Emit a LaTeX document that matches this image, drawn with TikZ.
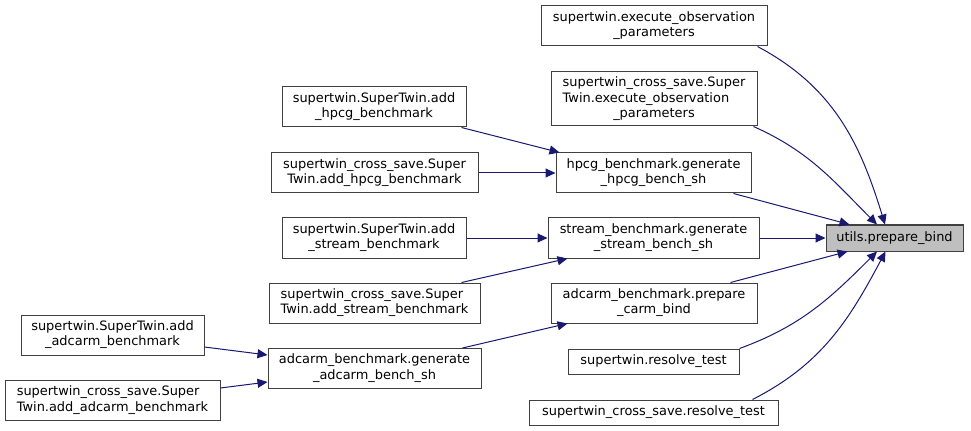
\documentclass[tikz,border=0pt]{standalone}
\usepackage{fontspec}
\setmainfont{DejaVu Sans}
\usepackage{tikz}
\usetikzlibrary{arrows.meta,calc}
\definecolor{callink}{HTML}{191970}
\definecolor{boxline}{HTML}{404040}
\definecolor{current}{HTML}{BFBFBF}
\newcommand{\fn}[1]{\detokenize{#1}}
\newcommand{\fnii}[2]{\begin{tabular}{@{}l@{}}\fn{#1}\\\multicolumn{1}{@{}c@{}}{\fn{#2}}\end{tabular}}
\newcommand{\fniii}[3]{\begin{tabular}{@{}l@{}}\fn{#1}\\\fn{#2}\\\multicolumn{1}{@{}c@{}}{\fn{#3}}\end{tabular}}

\begin{document}
\begin{tikzpicture}[x=0.75pt, y=-0.75pt, font=\fontsize{9.7}{11.6}\selectfont,
  func/.style={draw=boxline, line width=0.75pt, fill=white, inner sep=0pt, minimum height=30pt},
  single/.style={func, minimum height=18.75pt},
  call/.style={draw=callink, line width=0.75pt, -{Triangle[length=7.5pt,width=6.75pt]}}]
\useasboundingbox (0,0) rectangle (971,431);
\node[single, fill=current, minimum height=19.5pt, minimum width=102.75pt] (bind) at (894.5,238) {\fn{utils.prepare_bind}};
\node[func, minimum width=169.5pt] (execobs) at (654,26) {\fnii{supertwin.execute_observation}{_parameters}};
\node[func, minimum width=154.5pt, minimum height=40.5pt] (csexecobs) at (654,99) {\fniii{supertwin_cross_save.Super}{Twin.execute_observation}{_parameters}};
\node[func, minimum width=146.25pt] (hpcggen) at (653.5,173) {\fnii{hpcg_benchmark.generate}{_hpcg_bench_sh}};
\node[func, minimum width=158.25pt] (streamgen) at (653.5,238) {\fnii{stream_benchmark.generate}{_stream_bench_sh}};
\node[func, minimum width=154.5pt] (carmbind) at (654,303) {\fnii{adcarm_benchmark.prepare}{_carm_bind}};
\node[single, minimum width=128.25pt] (stresolve) at (653.5,361.5) {\fn{supertwin.resolve_test}};
\node[single, minimum width=186.75pt] (csresolve) at (653.5,412.5) {\fn{supertwin_cross_save.resolve_test}};
\node[func, minimum width=138pt] (addhpcg) at (374,107) {\fnii{supertwin.SuperTwin.add}{_hpcg_benchmark}};
\node[func, minimum width=155.25pt] (csaddhpcg) at (374.5,173) {\fnii{supertwin_cross_save.Super}{Twin.add_hpcg_benchmark}};
\node[func, minimum width=138pt] (addstream) at (374,238) {\fnii{supertwin.SuperTwin.add}{_stream_benchmark}};
\node[func, minimum width=158.25pt] (csaddstream) at (374.5,303) {\fnii{supertwin_cross_save.Super}{Twin.add_stream_benchmark}};
\node[func, minimum width=159.75pt] (adcarmgen) at (374.5,368.5) {\fnii{adcarm_benchmark.generate}{_adcarm_bench_sh}};
\node[func, minimum width=137.25pt] (addadcarm) at (112.5,335) {\fnii{supertwin.SuperTwin.add}{_adcarm_benchmark}};
\node[func, minimum width=161.25pt] (csaddadcarm) at (112.5,400.5) {\fnii{supertwin_cross_save.Super}{Twin.add_adcarm_benchmark}};
\draw[call] ($(execobs.south east)+(-10,0)$) to[out=-28, in=107] ($(bind.north)+(-9.5,0)$);
\draw[call] ($(csexecobs.south east)+(-4,0)$) to[out=-24, in=135] ($(bind.north)+(-17.5,0)$);
\draw[call] ($(hpcggen.south east)+(-18,0)$) -- ($(bind.north west)+(24,0)$);
\draw[call] (streamgen.east) -- (bind.west);
\draw[call] ($(carmbind.north east)+(-27,0)$) -- ($(bind.south west)+(22,0)$);
\draw[call] (stresolve.north east) to[out=20, in=-135] ($(bind.south)+(-17.5,0)$);
\draw[call] ($(csresolve.north east)+(-26,0)$) to[out=27, in=-118] ($(bind.south)+(-9,0)$);
\draw[call] ($(addhpcg.south east)+(-5,0)$) -- ($(hpcggen.north west)+(4,0)$);
\draw[call] (csaddhpcg.east) -- (hpcggen.west);
\draw[call] (addstream.east) -- (streamgen.west);
\draw[call] ($(csaddstream.north east)+(-19,0)$) -- ($(streamgen.south west)+(20,0)$);
\draw[call] ($(adcarmgen.north east)+(-19,0)$) -- ($(carmbind.south west)+(17,0)$);
\draw[call] ($(addadcarm.east)+(0,12)$) -- ($(adcarmgen.west)+(0,-13.5)$);
\draw[call] ($(csaddadcarm.east)+(0,-12.5)$) -- ($(adcarmgen.west)+(0,13.5)$);
\end{tikzpicture}
\end{document}
